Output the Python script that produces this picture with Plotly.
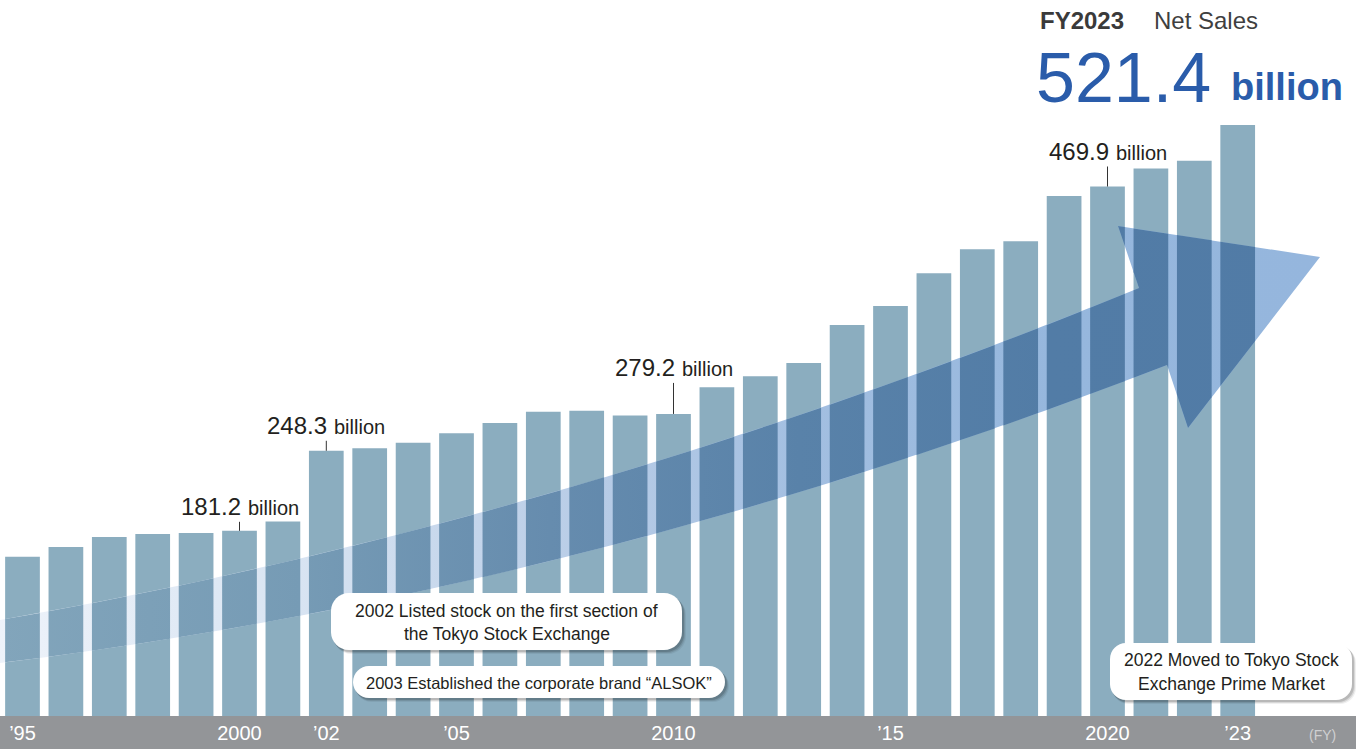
import numpy as np
import plotly.graph_objects as go

# ---------------- data ----------------
years = list(range(1995, 2024))
net_sales = [159.5, 167.6, 176.0, 178.5, 179.4, 181.2, 189.0, 248.3, 250.5, 255.0,
             263.0, 271.5, 281.0, 281.8, 277.8, 279.2, 301.5, 310.8, 322.0, 353.7,
             369.6, 397.2, 417.3, 424.0, 462.0, 469.9, 485.0, 491.5, 521.4]

tick_years = [1995, 2000, 2002, 2005, 2010, 2015, 2020, 2023]
tick_labels = ["’95", "2000", "’02", "’05", "2010", "’15", "2020", "’23"]

label_years = [2000, 2002, 2010, 2020]
label_values = ["181.2", "248.3", "279.2", "469.9"]
label_unit = "billion"

headline_year = "FY2023"
headline_title = "Net Sales"
headline_value = "521.4"
headline_unit = "billion"

event_lines = [
    ["2002 Listed stock on the first section of", "the Tokyo Stock Exchange"],
    ["2003 Established the corporate brand “ALSOK”"],
    ["2022 Moved to Tokyo Stock", "Exchange Prime Market"],
]
fy_label = "(FY)"

# ---------------- layout geometry ----------------
W, H = 1356, 749
MB = 33
PLOT_H = H - MB
X_RANGE = [1994.4816, 2025.7258]
Y_RANGE = [25.9, 626.3]
FONT = "Liberation Sans, Arial, Helvetica, sans-serif"
BAR_COLOR = (139, 173, 191)
TEXT = "#231f20"
BLUE = "#2a5caa"


def to_data(px, py):
    xd = X_RANGE[0] + px / W * (X_RANGE[1] - X_RANGE[0])
    yd = Y_RANGE[1] - py / PLOT_H * (Y_RANGE[1] - Y_RANGE[0])
    return xd, yd


def to_paper(px, py):
    return px / W, (PLOT_H - py) / PLOT_H


# ---------------- arrow decoration (pixel space) ----------------
xs_top = np.linspace(-5, 1139, 80)
top_edge = [(x, 620 - 0.1736 * x - 1.035e-4 * x * x) for x in xs_top]
xs_bot = np.linspace(1167, -5, 80)
bot_edge = [(x, 663 - 0.1233 * x - 1.1315e-4 * x * x) for x in xs_bot]
arrow_px = top_edge + [(1118, 226), (1320, 257), (1188, 428)] + bot_edge
arrow = [to_data(x, y) for x, y in arrow_px]

light_stops_px = [(0, (238, 243, 250)), (300, (216, 228, 242)), (550, (188, 207, 232)),
                  (800, (163, 191, 225)), (1050, (150, 183, 221)), (1320, (149, 182, 221))]
g_start = to_data(0, 0)[0]
g_stop = to_data(1320, 0)[0]


def rgb(c):
    return "rgb(%d,%d,%d)" % tuple(int(round(v)) for v in c)


light_scale = [[p / 1320, rgb(c)] for p, c in light_stops_px]
dark_scale = [[p / 1320, rgb([c[i] * BAR_COLOR[i] / 255 for i in range(3)])]
              for p, c in light_stops_px]


def clip_strip(poly, a, b):
    def clip_edge(pts, inside, xcut):
        out = []
        n = len(pts)
        for i in range(n):
            cur, prev = pts[i], pts[i - 1]
            ci, pi = inside(cur), inside(prev)
            if ci:
                if not pi:
                    t = (xcut - prev[0]) / (cur[0] - prev[0])
                    out.append((xcut, prev[1] + t * (cur[1] - prev[1])))
                out.append(cur)
            elif pi:
                t = (xcut - prev[0]) / (cur[0] - prev[0])
                out.append((xcut, prev[1] + t * (cur[1] - prev[1])))
        return out
    pts = clip_edge(poly, lambda p: p[0] >= a, a)
    if pts:
        pts = clip_edge(pts, lambda p: p[0] <= b, b)
    return pts


BARW = 0.8
dx, dy = [], []
for yr in years:
    piece = clip_strip(arrow, yr - BARW / 2, yr + BARW / 2)
    if len(piece) >= 3:
        piece = piece + [piece[0]]
        dx += [p[0] for p in piece] + [None]
        dy += [p[1] for p in piece] + [None]

fig = go.Figure()
fig.add_trace(go.Bar(x=years, y=net_sales, marker=dict(color=rgb(BAR_COLOR), line=dict(width=0)),
                     hoverinfo="skip", showlegend=False))
ax_ = [p[0] for p in arrow] + [arrow[0][0]]
ay_ = [p[1] for p in arrow] + [arrow[0][1]]
fig.add_trace(go.Scatter(x=ax_, y=ay_, mode="lines", line=dict(width=0), fill="toself",
                         fillgradient=dict(type="horizontal", colorscale=light_scale,
                                           start=g_start, stop=g_stop),
                         hoverinfo="skip", showlegend=False))
fig.add_trace(go.Scatter(x=dx, y=dy, mode="lines", line=dict(width=0), fill="toself",
                         fillgradient=dict(type="horizontal", colorscale=dark_scale,
                                           start=g_start, stop=g_stop),
                         hoverinfo="skip", showlegend=False))

shapes = []
annotations = []

# bottom band
shapes.append(dict(type="rect", xref="paper", yref="paper", x0=0, x1=1, y0=-MB / PLOT_H, y1=0,
                   fillcolor="#939598", line=dict(width=0), layer="below"))

# value labels
label_rise = [16, 17, 38, 27]
NUM_SIZE, UNIT_SIZE = 24, 20
for yr, txt, rise in zip(label_years, label_values, label_rise):
    val = net_sales[years.index(yr)]
    shapes.append(dict(type="line", xref="x", yref="y", x0=yr, x1=yr, ysizemode="pixel",
                       yanchor=val, y0=0, y1=rise - 7, line=dict(color="#333333", width=1)))
    annotations.append(dict(x=yr, y=val, xref="x", yref="y", text=txt, showarrow=False,
                            xanchor="right", yanchor="middle", xshift=2, borderpad=0,
                            yshift=rise + 0.3465 * NUM_SIZE,
                            font=dict(family=FONT, size=NUM_SIZE, color=TEXT)))
    annotations.append(dict(x=yr, y=val, xref="x", yref="y", text=label_unit, showarrow=False,
                            xanchor="left", yanchor="middle", xshift=7, borderpad=0,
                            yshift=rise + 0.3465 * UNIT_SIZE,
                            font=dict(family=FONT, size=UNIT_SIZE, color=TEXT)))


def text_at(px, baseline, txt, size, color, anchor="left", bold=False):
    cy = baseline - 0.3465 * size
    xp, yp = to_paper(px, cy)
    annotations.append(dict(x=xp, y=yp, xref="paper", yref="paper",
                            text=("<b>%s</b>" % txt) if bold else txt, showarrow=False,
                            xanchor=anchor, yanchor="middle", borderpad=0,
                            font=dict(family=FONT, size=size, color=color)))


# headline
text_at(1039, 29, headline_year, 24, "#3a3a3a", bold=True)
text_at(1153, 29, headline_title, 24, "#3f3f3f")
text_at(1035, 102, headline_value, 70, BLUE)
text_at(1230, 100, headline_unit, 38, BLUE, bold=True)


def rrect_path(x0, y0, x1, y1, r):
    k = 0.5523 * r

    def P(x, y):
        a, b = to_paper(x, y)
        return "%.6f,%.6f" % (a, b)
    return ("M %s L %s C %s %s %s L %s C %s %s %s L %s C %s %s %s L %s C %s %s %s Z" % (
        P(x0 + r, y0), P(x1 - r, y0), P(x1 - r + k, y0), P(x1, y0 + r - k), P(x1, y0 + r),
        P(x1, y1 - r), P(x1, y1 - r + k), P(x1 - r + k, y1), P(x1 - r, y1),
        P(x0 + r, y1), P(x0 + r - k, y1), P(x0, y1 - r + k), P(x0, y1 - r),
        P(x0, y0 + r), P(x0, y0 + r - k), P(x0 + r - k, y0), P(x0 + r, y0)))


boxes = [(331, 593, 682, 650, 18), (353, 666, 725, 698, 16), (1110, 643, 1352, 700, 16)]
line_baselines = [[617, 640], [689], [666, 690]]
box_font = [17.5, 16.5, 17.5]
for (x0, y0, x1, y1, r), lines, bls, fs in zip(boxes, event_lines, line_baselines, box_font):
    for off, op in [(4, 0.06), (3, 0.10), (2, 0.14)]:
        shapes.append(dict(type="path", xref="paper", yref="paper", layer="above",
                           path=rrect_path(x0 + off * 0.6, y0 + off, x1 + off, y1 + off, r),
                           fillcolor="rgba(0,0,0,%.2f)" % op, line=dict(width=0)))
    shapes.append(dict(type="path", xref="paper", yref="paper", layer="above",
                       path=rrect_path(x0, y0, x1, y1, r), fillcolor="white", line=dict(width=0)))
    for ln, bl in zip(lines, bls):
        text_at((x0 + x1) / 2, bl, ln, fs, TEXT, anchor="center")

# (FY)
text_at(1322, 740, fy_label, 14, "#cfd0d2", anchor="center")

fig.update_layout(
    width=W, height=H,
    margin=dict(l=0, r=0, t=0, b=MB, pad=0),
    paper_bgcolor="white", plot_bgcolor="rgba(0,0,0,0)",
    bargap=1 - BARW,
    shapes=shapes, annotations=annotations,
    xaxis=dict(range=X_RANGE, showgrid=False, zeroline=False, showline=False, ticks="",
               tickmode="array", tickvals=tick_years, ticktext=tick_labels,
               tickfont=dict(family=FONT, size=20, color="white"), ticklabelstandoff=3,
               automargin=False, fixedrange=True),
    yaxis=dict(range=Y_RANGE, visible=False, showgrid=False, zeroline=False,
               automargin=False, fixedrange=True),
    showlegend=False,
)

fig.write_html("out.html", config={"displayModeBar": False},
               post_script="document.body.style.margin='0';document.body.style.overflow='hidden';")
